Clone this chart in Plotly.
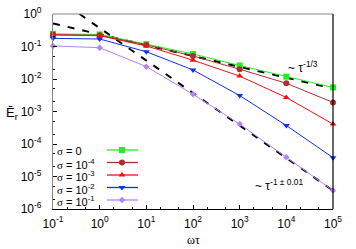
import plotly.graph_objects as go

# ---- data ----
omega_tau = [0.1, 1, 10, 100, 1e3, 1e4, 1e5]
SIG = "<span style='font-family:Liberation Serif, Times New Roman, serif'>σ</span>"
sigma_labels = [SIG + " = 0", SIG + " = 10<sup>-4</sup>", SIG + " = 10<sup>-3</sup>",
                SIG + " = 10<sup>-2</sup>", SIG + " = 10<sup>-1</sup>"]
E_sigma0 = [0.245, 0.235, 0.118, 0.059, 0.026, 0.0118, 0.0055]
E_sigma1e4 = [0.232, 0.222, 0.112, 0.051, 0.020, 0.0074, 0.0019]
E_sigma1e3 = [0.226, 0.215, 0.104, 0.038, 0.0123, 0.0027, 0.00041]
E_sigma1e2 = [0.178, 0.170, 0.069, 0.019, 0.0031, 0.00037, 0.000038]
E_sigma1e1 = [0.104, 0.092, 0.024, 0.0034, 0.00041, 0.000039, 0.0000037]
fit13_x = [0.1, 1e5]
fit13_y = [0.51, 0.0051]
fit1_x = [0.37, 1e5]
fit1_y = [1.0, 3.7e-6]
x_tickvals = [0.1, 1, 10, 100, 1e3, 1e4, 1e5]
x_ticktext = ["10<sup>-1</sup>", "10<sup>0</sup>", "10<sup>1</sup>", "10<sup>2</sup>",
              "10<sup>3</sup>", "10<sup>4</sup>", "10<sup>5</sup>"]
y_tickvals = [1e-6, 1e-5, 1e-4, 1e-3, 1e-2, 1e-1, 1]
y_ticktext = ["10<sup>-6</sup>", "10<sup>-5</sup>", "10<sup>-4</sup>", "10<sup>-3</sup>",
              "10<sup>-2</sup>", "10<sup>-1</sup>", "10<sup>0</sup>"]

series = [E_sigma0, E_sigma1e4, E_sigma1e3, E_sigma1e2, E_sigma1e1]
colors = ["#22ee22", "#a83232", "#ee1111", "#1030ee", "#b482ff"]
symbols = ["square", "circle", "triangle-up", "triangle-down", "diamond"]
msizes = [6, 6, 6, 6, 5]

W, H = 356, 249
L, R, T, B = 53, 23, 14, 40
PW, PH = W - L - R, H - T - B
FONT = "Liberation Sans, Arial, sans-serif"

fig = go.Figure()

# fit lines
for fx, fy in [(fit13_x, fit13_y), (fit1_x, fit1_y)]:
    fig.add_trace(go.Scatter(x=fx, y=fy, mode="lines",
                             line=dict(color="black", width=2, dash="7px,8px"),
                             showlegend=False, hoverinfo="skip"))

for s, c, sym, ms in zip(series, colors, symbols, msizes):
    fig.add_trace(go.Scatter(x=omega_tau, y=s, mode="lines+markers",
                             line=dict(color=c, width=1),
                             marker=dict(color=c, symbol=sym, size=ms),
                             showlegend=False, cliponaxis=False))

# legend drawn on an overlay pixel axis
leg_y = [150, 162.5, 175, 187.5, 200]
for i, (lab, c, sym, ms) in enumerate(zip(sigma_labels, colors, symbols, msizes)):
    fig.add_trace(go.Scatter(x=[107, 122, 138], y=[leg_y[i]] * 3, mode="lines",
                             line=dict(color=c, width=1.3), xaxis="x2", yaxis="y2",
                             showlegend=False, hoverinfo="skip"))
    fig.add_trace(go.Scatter(x=[122], y=[leg_y[i]], mode="markers",
                             marker=dict(color=c, symbol=sym, size=ms), xaxis="x2", yaxis="y2",
                             showlegend=False, hoverinfo="skip"))
    fig.add_annotation(x=55, y=leg_y[i] + 1, xref="x2", yref="y2", text=lab,
                       showarrow=False, xanchor="left", yanchor="middle",
                       font=dict(family=FONT, size=11, color="black"))

fig.update_layout(
    width=W, height=H,
    margin=dict(l=L, r=R, t=T, b=B, autoexpand=False),
    paper_bgcolor="white", plot_bgcolor="white",
    font=dict(family=FONT, size=12, color="black"),
    xaxis=dict(type="log", range=[-1, 5], tickvals=x_tickvals, ticktext=x_ticktext,
               ticks="inside", ticklen=4, tickcolor="black", showgrid=False, zeroline=False,
               showline=True, linecolor="black", linewidth=1.2, mirror=False,
               minor=dict(ticks="inside", ticklen=2, tickcolor="black", showgrid=False),
               tickfont=dict(size=12), ticklabelstandoff=3),
    yaxis=dict(type="log", range=[-6, 0], tickvals=y_tickvals, ticktext=y_ticktext,
               ticks="inside", ticklen=4, tickcolor="black", showgrid=False, zeroline=False,
               showline=True, linecolor="#888888", linewidth=1.2, mirror=False,
               minor=dict(ticks="inside", ticklen=2, tickcolor="black", showgrid=False),
               tickfont=dict(size=12), ticklabelstandoff=8),
    xaxis2=dict(overlaying="x", range=[L, W - R], visible=False, fixedrange=True),
    yaxis2=dict(overlaying="y", range=[H - B, T], visible=False, fixedrange=True),
    showlegend=False,
)

# top and right frame lines
fig.add_shape(type="line", xref="paper", yref="paper", x0=0, x1=1, y0=1, y1=1,
              line=dict(color="#888888", width=1.2))
fig.add_shape(type="line", xref="paper", yref="paper", x0=1, x1=1, y0=0, y1=1,
              line=dict(color="black", width=1.2))

# axis titles
fig.add_annotation(x=(193 - L) / PW, y=(H - B - 240) / PH, xref="paper", yref="paper",
                   text="ωτ", showarrow=False, yanchor="middle",
                   font=dict(family="Liberation Serif, serif", size=12))
fig.add_annotation(x=(12 - L) / PW, y=(H - B - 113) / PH, xref="paper", yref="paper",
                   text="Ē<sub>r</sub>", showarrow=False, xanchor="center", yanchor="middle",
                   font=dict(size=13))

# fit annotations
fig.add_annotation(x=286, y=67, xref="x2", yref="y2", text="~ τ<sup>-1/3</sup>",
                   showarrow=False, xanchor="left", yanchor="middle", font=dict(size=12))
fig.add_annotation(x=253, y=185, xref="x2", yref="y2", text="~ τ<sup>-1 ± 0.01</sup>",
                   showarrow=False, xanchor="left", yanchor="middle", font=dict(size=12))

fig.write_html("out.html", config={"displayModeBar": False},
               post_script="document.body.style.margin='0';document.body.style.padding='0';")
